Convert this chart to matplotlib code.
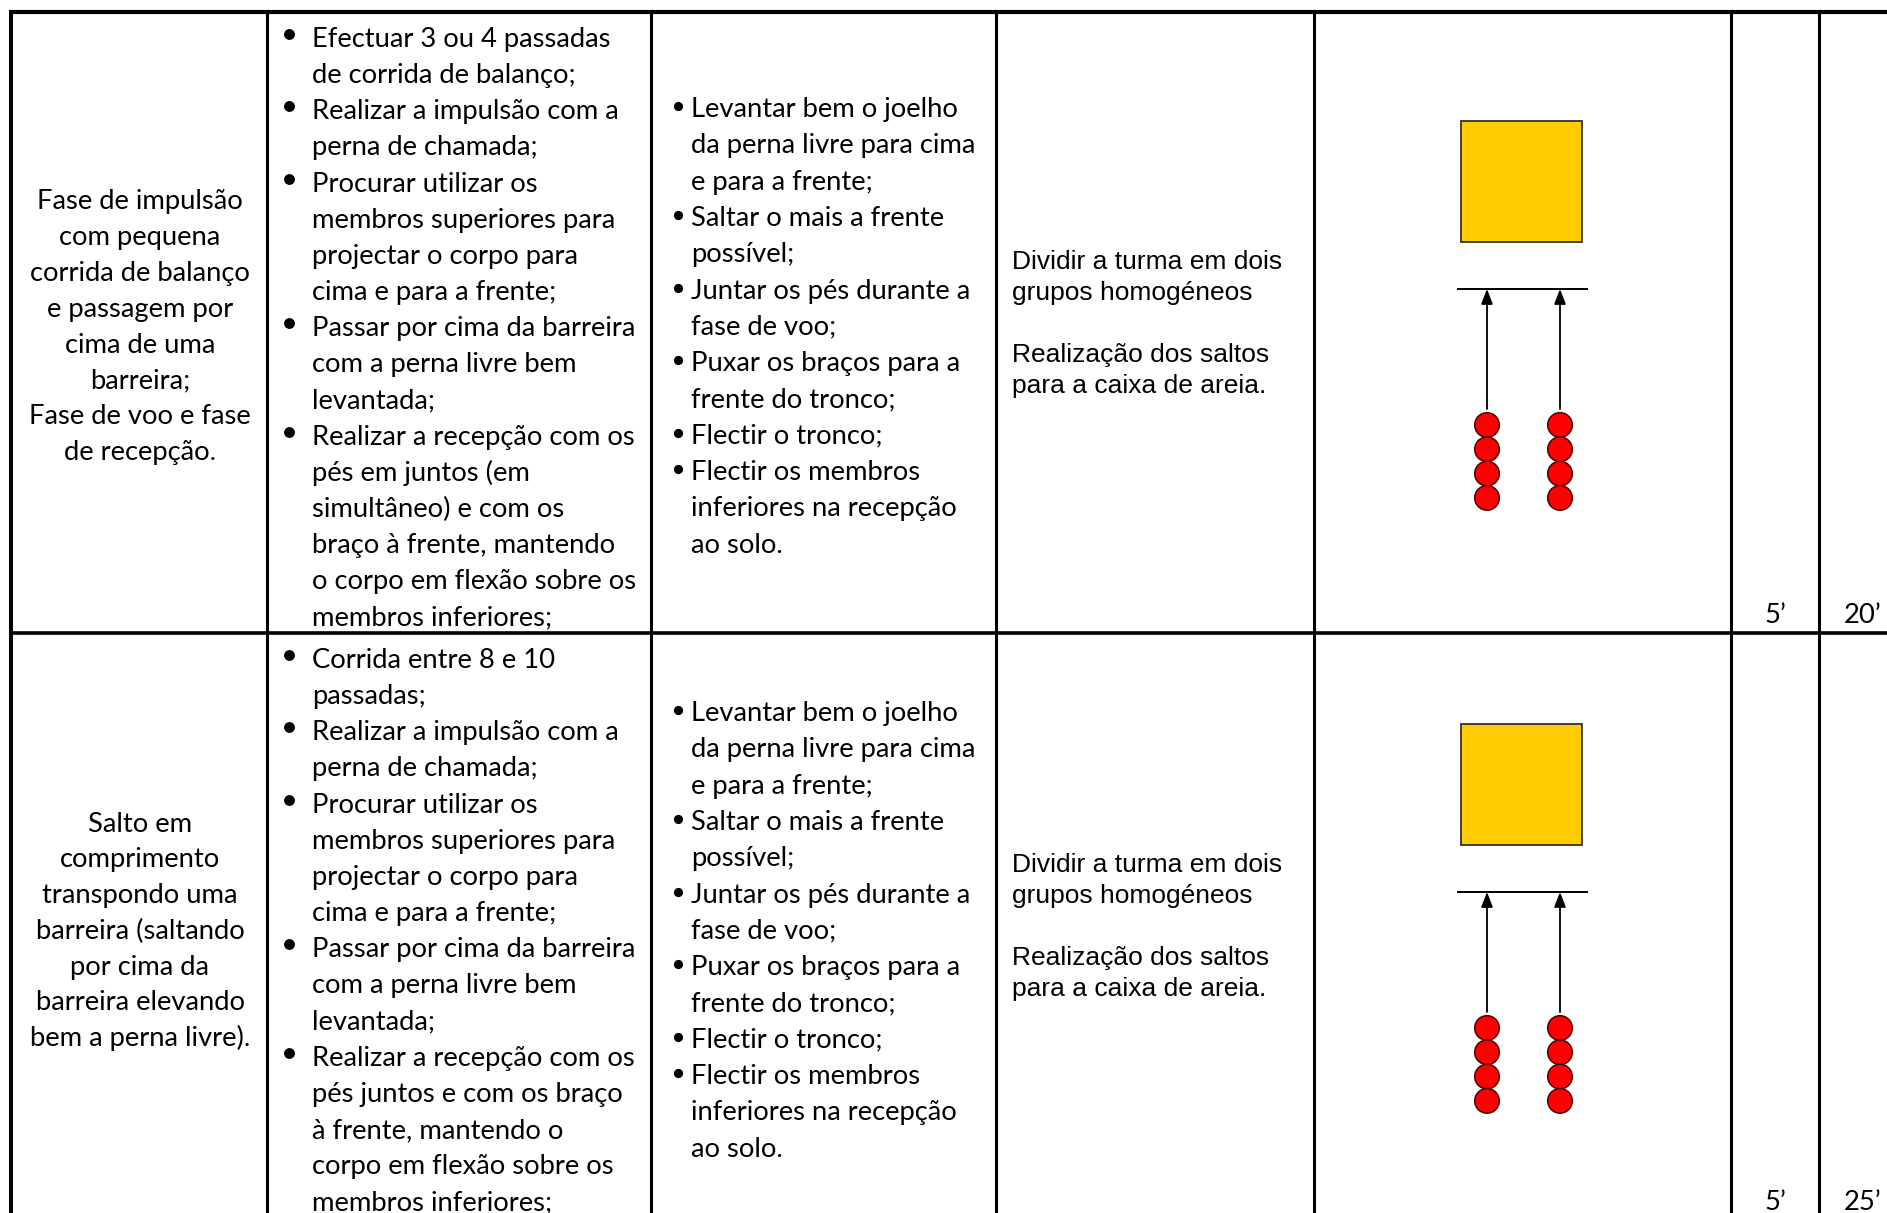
import matplotlib.pyplot as plt
from matplotlib.patches import Rectangle, Circle

# --- table content (one entry per row) ---
fase_textos = [
    ["Fase de impulsão", "com pequena", "corrida de balanço", "e passagem por",
     "cima de uma", "barreira;", "Fase de voo e fase", "de recepção."],
    ["Salto em", "comprimento", "transpondo uma", "barreira (saltando",
     "por cima da", "barreira elevando", "bem a perna livre)."],
]

objetivos = [
    [["Efectuar 3 ou 4 passadas", "de corrida de balanço;"],
     ["Realizar a impulsão com a", "perna de chamada;"],
     ["Procurar utilizar os", "membros superiores para", "projectar o corpo para",
      "cima e para a frente;"],
     ["Passar por cima da barreira", "com a perna livre bem", "levantada;"],
     ["Realizar a recepção com os", "pés em juntos (em", "simultâneo) e com os",
      "braço à frente, mantendo", "o corpo em flexão sobre os", "membros inferiores;"]],
    [["Corrida entre 8 e 10", "passadas;"],
     ["Realizar a impulsão com a", "perna de chamada;"],
     ["Procurar utilizar os", "membros superiores para", "projectar o corpo para",
      "cima e para a frente;"],
     ["Passar por cima da barreira", "com a perna livre bem", "levantada;"],
     ["Realizar a recepção com os", "pés juntos e com os braço", "à frente, mantendo o",
      "corpo em flexão sobre os", "membros inferiores;"]],
]

criterios = [
    ["Levantar bem o joelho", "da perna livre para cima", "e para a frente;"],
    ["Saltar o mais a frente", "possível;"],
    ["Juntar os pés durante a", "fase de voo;"],
    ["Puxar os braços para a", "frente do tronco;"],
    ["Flectir o tronco;"],
    ["Flectir os membros", "inferiores na recepção", "ao solo."],
]

organizacao = ["Dividir a turma em dois", "grupos homogéneos", "",
               "Realização dos saltos", "para a caixa de areia."]

tempo_parcial = ["5’", "5’"]
tempo_total = ["20’", "25’"]

n_alunos_fila = 4
n_filas = 2

# --- layout (pixel coordinates of the page) ---
W, H = 1887, 1213
col_x = [11, 267, 651, 996, 1314, 1731, 1819]
top_y = 12
row_line_y = 633
row_shift = [0, 603]

fig = plt.figure(figsize=(W / 100, H / 100), dpi=100)
ax = fig.add_axes([0, 0, 1, 1])
ax.set_xlim(0, W)
ax.set_ylim(H, 0)
ax.axis('off')

calibri = 'Lato'
arial = 'Liberation Sans'
fs_main = 19.75
fs_org = 19.0

# grid lines
ax.plot([col_x[0] - 2, W], [top_y, top_y], color='black', lw=3.0, solid_capstyle='butt')
ax.plot([col_x[0], W], [row_line_y, row_line_y], color='black', lw=2.6,
        solid_capstyle='butt')
for i, x in enumerate(col_x):
    ax.plot([x, x], [top_y, H], color='black', lw=2.9 if i == 0 else 2.2,
            solid_capstyle='butt')

col1_start = [209.5, 831.5]
col2_start = [47, 668]
col3_start = [117, 721]
col4_start = [269, 872]
step = 36.15

for r in range(2):
    # column 1: centered text
    for i, line in enumerate(fase_textos[r]):
        ax.text((col_x[0] + col_x[1]) / 2 + 1, col1_start[r] + i * 35.8, line,
                family=calibri, fontsize=fs_main, ha='center', va='baseline')

    # column 2: bullet list
    k = 0
    for item in objetivos[r]:
        y0 = col2_start[r] + k * step
        ax.plot(289, y0 - 13, 'o', color='black', ms=6.8)
        for line in item:
            ax.text(312, col2_start[r] + k * step, line, family=calibri,
                    fontsize=fs_main, ha='left', va='baseline')
            k += 1

    # column 3: bullet list
    k = 0
    for item in criterios:
        y0 = col3_start[r] + k * 36.3
        ax.plot(678, y0 - 11, 'o', color='black', ms=5.6)
        for line in item:
            ax.text(691, col3_start[r] + k * 36.3, line, family=calibri,
                    fontsize=fs_main, ha='left', va='baseline')
            k += 1

    # column 4: organisation text
    for i, line in enumerate(organizacao):
        if line:
            ax.text(1012, col4_start[r] + i * 31, line, family=arial,
                    fontsize=fs_org, ha='left', va='baseline')

    # column 5: diagram (sand box, take-off line, two lanes of runners)
    dy = row_shift[r]
    ax.add_patch(Rectangle((1461, 121 + dy), 121, 121, facecolor='#FFCC00',
                           edgecolor='#333333', lw=1.3))
    ax.plot([1458, 1587], [289 + dy, 289 + dy], color='black', lw=1.4)
    for f in range(n_filas):
        lx = 1487 + f * 73
        ax.annotate('', xy=(lx, 289 + dy), xytext=(lx, 409 + dy),
                    arrowprops=dict(arrowstyle='-|>,head_length=0.9,head_width=0.35',
                                    color='black', lw=1.3, shrinkA=0, shrinkB=0))
        for a in range(n_alunos_fila):
            ax.add_patch(Circle((lx, 425 + dy + a * 24.3), 12.3, facecolor='#FF0000',
                                edgecolor='#4a0000', lw=1.1))

    # columns 6 and 7: times
    base = 623 if r == 0 else 1210.5
    ax.text(1764, base, tempo_parcial[r], family=calibri, fontsize=fs_main,
            ha='left', va='baseline')
    ax.text(1844, base, tempo_total[r], family=calibri, fontsize=fs_main,
            ha='left', va='baseline')

fig.savefig('out.png', dpi=100)
